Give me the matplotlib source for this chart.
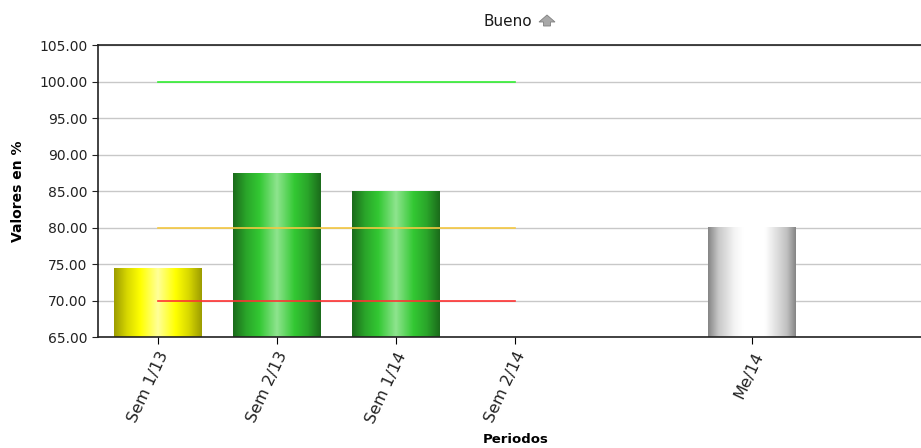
import numpy as np
import matplotlib
matplotlib.use("Agg")
import matplotlib.pyplot as plt
from matplotlib.colors import LinearSegmentedColormap
from matplotlib.patches import Rectangle, Polygon

# data
periodos = ["Sem 1/13", "Sem 2/13", "Sem 1/14", "Sem 2/14", "", "Me/14"]
valores = [74.4, 87.5, 85.0, None, None, 80.0]
estilos = ["yellow", "green", "green", None, None, "gray"]
meta_bueno = [100.0, 100.0, 100.0, 100.0]
meta_regular = [80.0, 80.0, 80.0, 80.0]
meta_malo = [70.0, 70.0, 70.0, 70.0]

cmaps = {
    "yellow": LinearSegmentedColormap.from_list("y", [(0, "#9c9c00"), (0.15, "#d8d800"), (0.3, "#ffff00"), (0.5, "#ffff99"), (0.7, "#ffff00"), (0.85, "#d8d800"), (1, "#9c9c00")]),
    "green": LinearSegmentedColormap.from_list("g", [(0, "#1b6b1b"), (0.15, "#2aa52a"), (0.3, "#33c833"), (0.5, "#8ee48e"), (0.7, "#33c833"), (0.85, "#2aa52a"), (1, "#1b6b1b")]),
    "gray": LinearSegmentedColormap.from_list("k", [(0, "#858585"), (0.12, "#c8c8c8"), (0.3, "#f4f4f4"), (0.4, "#ffffff"), (0.65, "#ffffff"), (0.8, "#dadada"), (0.9, "#c0c0c0"), (1, "#858585")]),
}

fig = plt.figure(figsize=(9.21, 4.48), dpi=100)
ax = fig.add_axes([98 / 921, 1 - 337 / 448, 823 / 921, 292 / 448])

x = np.arange(len(periodos))
ax.set_xlim(-0.505, 6.42)
ax.set_ylim(65, 105)
ax.set_yticks(np.arange(65, 105.1, 5))
ax.yaxis.set_major_formatter(matplotlib.ticker.FormatStrFormatter("%.2f"))
ax.grid(axis="y", color="#c8c8c8", linewidth=1)
ax.set_axisbelow(True)

width = 0.74
grad = np.linspace(0, 1, 256).reshape(1, -1)
for xi, v, st in zip(x, valores, estilos):
    if v is None:
        continue
    rect = Rectangle((xi - width / 2, 65), width, v - 65, facecolor="none", edgecolor="none")
    ax.add_patch(rect)
    im = ax.imshow(grad, cmap=cmaps[st], aspect="auto", extent=(xi - width / 2, xi + width / 2, 65, v),
                   zorder=2, interpolation="bilinear")
    im.set_clip_path(rect)

ax.plot(x[:4], meta_bueno, color="#33ee33", linewidth=1.2, zorder=3)
ax.plot(x[:4], meta_regular, color="#f5c842", linewidth=1.2, zorder=3)
ax.plot(x[:4], meta_malo, color="#ff3333", linewidth=1.2, zorder=3)

ax.set_xticks([0, 1, 2, 3, 5])
ax.set_xticklabels([periodos[i] for i in [0, 1, 2, 3, 5]], rotation=65, ha="right", rotation_mode="anchor", fontsize=11.5, color="#222222")
ax.tick_params(axis="y", labelsize=10, length=4, colors="#222222")
ax.tick_params(axis="x", length=5, pad=4)
for s in ["left", "bottom", "top"]:
    ax.spines[s].set_color("#222222")
    ax.spines[s].set_linewidth(1.2)
ax.spines["right"].set_visible(False)

ax.set_ylabel("Valores en %", fontsize=10, fontweight="bold")
ax.yaxis.set_label_coords(-0.089, 0.5)
ax.set_xlabel("Periodos", fontsize=9.5, fontweight="bold")
ax.xaxis.set_label_coords(0.507, -0.33)

fig.text(508 / 921, 1 - 22 / 448, "Bueno", ha="center", va="center", fontsize=11, color="#1a1a1a")
# grey up-arrow next to the title
ac, at = 547, 15
arrow = [(ac, at), (ac + 8, at + 7), (ac + 3.5, at + 7), (ac + 3.5, at + 11), (ac - 3.5, at + 11), (ac - 3.5, at + 7), (ac - 8, at + 7)]
fig.patches.append(Polygon([(px / 921, 1 - py / 448) for px, py in arrow], closed=True,
                           transform=fig.transFigure, facecolor="#a8a8a8", edgecolor="#808080", linewidth=0.6))

fig.savefig("out.png", dpi=100)
